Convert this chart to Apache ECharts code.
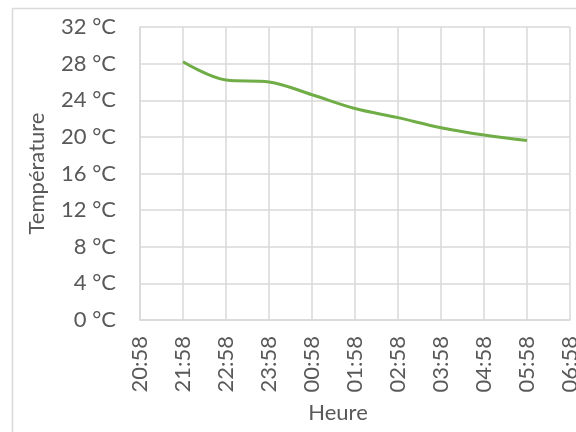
<!DOCTYPE html>
<html><head><meta charset="utf-8">
<script src="https://cdn.jsdelivr.net/npm/echarts@6/dist/echarts.min.js"></script>
<style>html,body{margin:0;padding:0;background:#fff}#c{width:576px;height:432px}</style>
</head><body><div id="c"></div>
<script>
const hours = ['20:58','21:58','22:58','23:58','00:58','01:58','02:58','03:58','04:58','05:58','06:58'];
const temps = [null, 28.2, 26.2, 26.0, 24.6, 23.1, 22.1, 21.0, 20.2, 19.6, null];
const yTicks = {min: 0, max: 32, interval: 4};
const font = 'Lato, "Open Sans", sans-serif';
const chart = echarts.init(document.getElementById('c'));
chart.setOption({
  animation: false,
  graphic: [{type:'rect', shape:{x:12.5,y:8.5,width:700,height:600}, style:{fill:null, stroke:'#d9d9d9', lineWidth:1.5}, silent:true}],
  grid: {left: 140, right: 6, top: 27, bottom: 112, outerBoundsMode: 'none', containLabel: false},
  xAxis: {
    type: 'category', data: hours, boundaryGap: false,
    axisLine: {lineStyle: {color: '#d9d9d9', width: 1.5}},
    axisTick: {show: false},
    splitLine: {show: true, lineStyle: {color: '#d9d9d9', width: 1.5}},
    axisLabel: {rotate: 90, margin: 16, color: '#595959', fontSize: 22, fontFamily: font, interval: 0},
    name: 'Heure', nameLocation: 'middle', nameGap: 82,
    nameTextStyle: {color: '#595959', fontSize: 22, fontFamily: font, padding: [0, 34, 0, 0]}
  },
  yAxis: {
    type: 'value', min: yTicks.min, max: yTicks.max, interval: yTicks.interval,
    axisLine: {show: true, lineStyle: {color: '#d9d9d9', width: 1.5}},
    axisTick: {show: false},
    splitLine: {lineStyle: {color: '#d9d9d9', width: 1.5}},
    axisLabel: {formatter: '{value} °C', margin: 24, color: '#595959', fontSize: 22, fontFamily: font},
    name: 'Température', nameLocation: 'middle', nameGap: 92,
    nameTextStyle: {color: '#595959', fontSize: 22, fontFamily: font}
  },
  series: [{
    type: 'line', data: temps, smooth: 0.35, showSymbol: false, connectNulls: false,
    lineStyle: {color: '#70ad47', width: 3}, itemStyle: {color: '#70ad47'}
  }]
});
</script></body></html>
